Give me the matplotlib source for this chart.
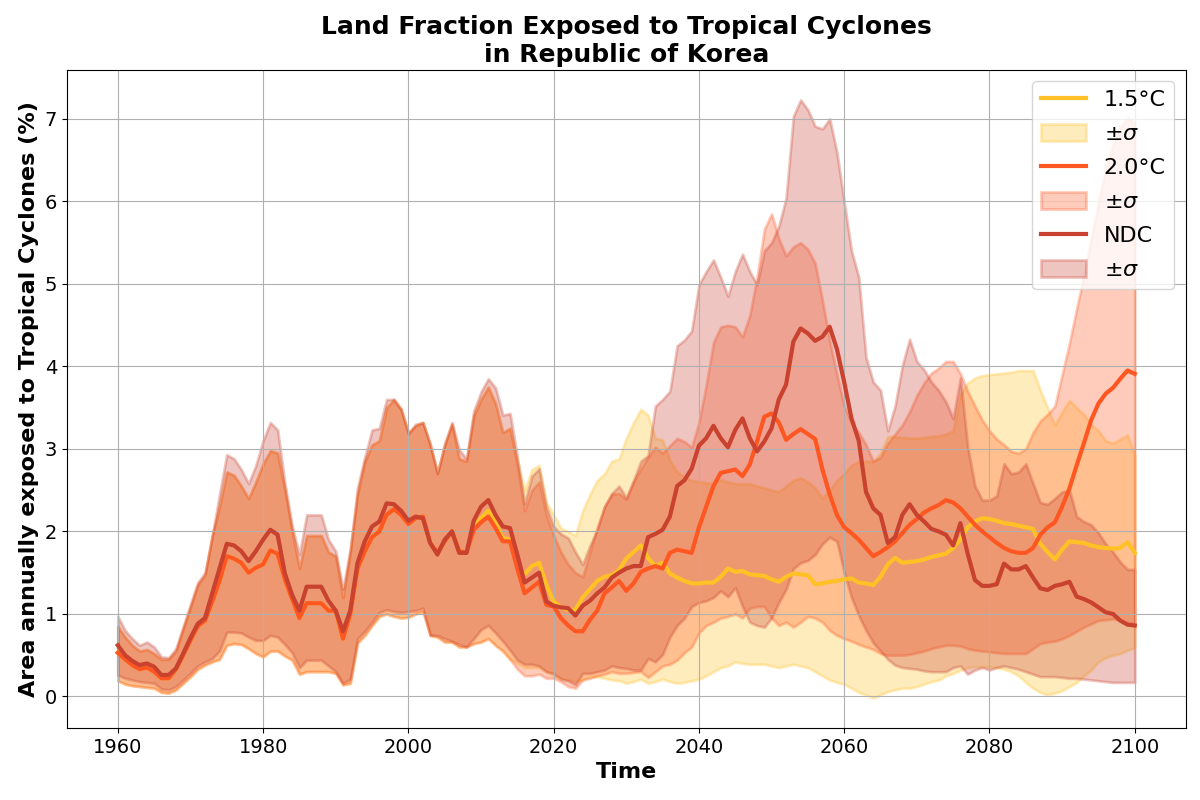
import numpy as np
import matplotlib
matplotlib.use("Agg")
import matplotlib.pyplot as plt

years = list(range(1960, 2101))

# ---------------- NDC ----------------
ndc_mean = [
    0.62, 0.50, 0.43, 0.38, 0.40, 0.36, 0.26, 0.26, 0.34, 0.52,
    0.71, 0.88, 0.95, 1.25, 1.55, 1.85, 1.83, 1.76, 1.64, 1.76,
    1.90, 2.02, 1.96, 1.49, 1.23, 1.04, 1.33, 1.33, 1.33, 1.16,
    1.04, 0.79, 1.04, 1.62, 1.88, 2.06, 2.12, 2.34, 2.33, 2.25,
    2.13, 2.18, 2.16, 1.86, 1.72, 1.90, 2.00, 1.74, 1.74, 2.13,
    2.30, 2.38, 2.20, 2.06, 2.04, 1.72, 1.38, 1.44, 1.50, 1.15,
    1.10, 1.08, 1.07, 0.98, 1.10, 1.16, 1.25, 1.32, 1.44, 1.50,
    1.55, 1.58, 1.58, 1.93, 1.97, 2.02, 2.18, 2.55, 2.62, 2.76,
    3.04, 3.13, 3.28, 3.13, 3.02, 3.23, 3.37, 3.13, 2.97, 3.09,
    3.25, 3.60, 3.78, 4.30, 4.46, 4.40, 4.31, 4.36, 4.48, 4.21,
    3.81, 3.37, 3.10, 2.48, 2.28, 2.20, 1.86, 1.93, 2.20, 2.33,
    2.20, 2.12, 2.03, 2.00, 1.96, 1.83, 2.10, 1.73, 1.41, 1.34,
    1.34, 1.36, 1.61, 1.54, 1.54, 1.58, 1.44, 1.31, 1.29, 1.34,
    1.36, 1.39, 1.21, 1.18, 1.14, 1.08, 1.02, 1.00, 0.92, 0.87,
    0.86]
ndc_upper = [
    0.97, 0.80, 0.70, 0.62, 0.66, 0.60, 0.48, 0.47, 0.58, 0.85,
    1.12, 1.38, 1.50, 1.95, 2.45, 2.93, 2.88, 2.75, 2.58, 2.80,
    3.10, 3.32, 3.23, 2.58, 2.06, 1.72, 2.20, 2.20, 2.20, 1.90,
    1.76, 1.30, 1.79, 2.53, 2.90, 3.23, 3.25, 3.60, 3.60, 3.48,
    3.18, 3.30, 3.32, 3.06, 2.71, 3.06, 3.32, 2.99, 2.88, 3.46,
    3.69, 3.85, 3.74, 3.41, 3.43, 2.90, 2.34, 2.67, 2.76, 2.30,
    2.06, 1.97, 1.92, 1.75, 1.60, 1.83, 2.02, 2.30, 2.46, 2.55,
    2.41, 2.62, 2.85, 2.92, 3.52, 3.60, 3.70, 4.25, 4.32, 4.43,
    4.99, 5.15, 5.29, 5.08, 4.85, 5.15, 5.36, 5.15, 4.99, 5.40,
    5.50, 5.70, 6.04, 7.03, 7.23, 7.11, 6.91, 6.88, 7.00, 6.59,
    5.99, 5.40, 5.08, 4.11, 3.81, 3.71, 3.22, 3.52, 4.01, 4.33,
    4.06, 3.96, 3.81, 3.71, 3.57, 3.37, 3.86, 3.02, 2.55, 2.38,
    2.38, 2.43, 2.82, 2.70, 2.72, 2.82, 2.58, 2.35, 2.33, 2.40,
    2.48, 2.50, 2.18, 2.12, 2.08, 1.98, 1.85, 1.75, 1.63, 1.54,
    1.54]
ndc_lower = [
    0.26, 0.22, 0.20, 0.18, 0.17, 0.16, 0.09, 0.08, 0.12, 0.20,
    0.28, 0.37, 0.42, 0.46, 0.55, 0.78, 0.78, 0.77, 0.72, 0.68,
    0.68, 0.74, 0.72, 0.63, 0.53, 0.35, 0.44, 0.44, 0.44, 0.37,
    0.30, 0.16, 0.21, 0.70, 0.79, 0.90, 1.02, 1.05, 1.03, 1.02,
    1.03, 1.04, 1.07, 0.74, 0.74, 0.70, 0.67, 0.63, 0.60, 0.70,
    0.81, 0.86, 0.77, 0.67, 0.56, 0.44, 0.39, 0.39, 0.37, 0.30,
    0.28, 0.21, 0.19, 0.14, 0.28, 0.28, 0.30, 0.32, 0.37, 0.35,
    0.34, 0.32, 0.32, 0.46, 0.42, 0.51, 0.72, 0.86, 0.95, 1.09,
    1.14, 1.16, 1.20, 1.28, 1.21, 1.32, 1.09, 0.90, 0.86, 0.84,
    0.95, 1.14, 1.30, 1.55, 1.62, 1.65, 1.72, 1.85, 1.93, 1.88,
    1.50, 1.20, 0.98, 0.80, 0.65, 0.55, 0.45, 0.38, 0.35, 0.34,
    0.33, 0.31, 0.30, 0.30, 0.30, 0.35, 0.37, 0.27, 0.32, 0.35,
    0.32, 0.35, 0.37, 0.35, 0.33, 0.30, 0.27, 0.24, 0.24, 0.24,
    0.23, 0.22, 0.22, 0.21, 0.20, 0.19, 0.18, 0.17, 0.17, 0.17,
    0.17]

# ---------------- 2.0°C ----------------
w20_mean = [
    0.53, 0.45, 0.38, 0.33, 0.35, 0.30, 0.22, 0.22, 0.33, 0.50,
    0.68, 0.85, 0.92, 1.15, 1.40, 1.70, 1.67, 1.62, 1.50, 1.56,
    1.60, 1.77, 1.73, 1.42, 1.18, 0.95, 1.13, 1.13, 1.13, 1.04,
    1.04, 0.70, 1.00, 1.55, 1.76, 1.93, 2.00, 2.20, 2.27, 2.20,
    2.09, 2.16, 2.18, 1.86, 1.74, 1.88, 2.00, 1.76, 1.74, 2.02,
    2.11, 2.18, 2.04, 1.88, 1.88, 1.55, 1.25, 1.32, 1.39, 1.11,
    1.09, 0.95, 0.86, 0.79, 0.79, 0.93, 1.04, 1.25, 1.32, 1.40,
    1.28, 1.37, 1.51, 1.55, 1.58, 1.55, 1.74, 1.78, 1.76, 1.74,
    2.05, 2.30, 2.55, 2.71, 2.73, 2.75, 2.67, 2.81, 3.09, 3.39,
    3.43, 3.32, 3.11, 3.18, 3.24, 3.18, 3.12, 2.75, 2.45, 2.20,
    2.05, 1.98, 1.90, 1.80, 1.70, 1.75, 1.81, 1.88, 1.98, 2.08,
    2.15, 2.23, 2.28, 2.32, 2.38, 2.35, 2.28, 2.18, 2.08, 2.00,
    1.93, 1.86, 1.80, 1.76, 1.74, 1.74, 1.80, 1.96, 2.05, 2.11,
    2.30, 2.52, 2.80, 3.07, 3.35, 3.55, 3.67, 3.74, 3.85, 3.95,
    3.91]
w20_upper = [
    0.85, 0.72, 0.62, 0.55, 0.57, 0.52, 0.45, 0.45, 0.55, 0.82,
    1.08, 1.35, 1.47, 1.95, 2.30, 2.72, 2.68, 2.55, 2.40, 2.60,
    2.82, 2.98, 2.95, 2.50, 2.00, 1.55, 1.95, 1.95, 1.95, 1.75,
    1.70, 1.20, 1.75, 2.45, 2.85, 3.05, 3.10, 3.50, 3.60, 3.48,
    3.20, 3.28, 3.32, 3.05, 2.70, 3.05, 3.30, 2.88, 2.85, 3.40,
    3.60, 3.75, 3.55, 3.20, 3.25, 2.80, 2.25, 2.50, 2.60, 2.20,
    1.95, 1.75, 1.60, 1.50, 1.45, 1.75, 2.05, 2.30, 2.45, 2.46,
    2.39, 2.60, 2.76, 2.90, 3.02, 2.95, 3.04, 3.13, 3.09, 3.02,
    3.32, 3.78, 4.29, 4.48, 4.50, 4.48, 4.36, 4.62, 5.08, 5.66,
    5.85, 5.55, 5.34, 5.45, 5.50, 5.42, 5.25, 4.80, 4.31, 3.90,
    3.52, 3.32, 3.20, 3.05, 2.85, 2.90, 3.07, 3.18, 3.29, 3.45,
    3.65, 3.80, 3.92, 3.98, 4.06, 4.06, 3.91, 3.70, 3.52, 3.35,
    3.22, 3.12, 3.05, 2.97, 2.95, 3.00, 3.20, 3.34, 3.42, 3.52,
    3.90, 4.28, 4.70, 5.10, 5.55, 5.99, 6.40, 6.69, 6.90, 7.01,
    6.95]
w20_lower = [
    0.19, 0.15, 0.13, 0.12, 0.11, 0.10, 0.05, 0.04, 0.08, 0.16,
    0.24, 0.33, 0.38, 0.42, 0.45, 0.62, 0.64, 0.63, 0.58, 0.52,
    0.48, 0.55, 0.55, 0.49, 0.44, 0.27, 0.30, 0.30, 0.30, 0.30,
    0.28, 0.14, 0.16, 0.65, 0.74, 0.86, 0.97, 1.00, 0.97, 0.95,
    0.96, 1.00, 1.03, 0.74, 0.72, 0.66, 0.66, 0.60, 0.60, 0.64,
    0.66, 0.70, 0.62, 0.55, 0.45, 0.33, 0.25, 0.25, 0.27, 0.22,
    0.22, 0.18, 0.12, 0.10, 0.20, 0.22, 0.25, 0.27, 0.30, 0.28,
    0.28, 0.29, 0.30, 0.23, 0.30, 0.37, 0.39, 0.44, 0.53, 0.60,
    0.77, 0.86, 0.90, 0.95, 0.97, 1.00, 0.95, 1.07, 1.09, 1.09,
    0.95, 0.86, 0.90, 0.84, 0.90, 0.97, 0.95, 0.90, 0.80, 0.74,
    0.70, 0.67, 0.63, 0.60, 0.57, 0.52, 0.50, 0.50, 0.50, 0.51,
    0.53, 0.55, 0.58, 0.60, 0.62, 0.62, 0.61, 0.58, 0.56, 0.55,
    0.54, 0.53, 0.52, 0.52, 0.52, 0.52, 0.58, 0.64, 0.66, 0.67,
    0.70, 0.74, 0.79, 0.84, 0.88, 0.92, 0.93, 0.94, 0.92, 0.89,
    0.89]

# ---------------- 1.5°C ----------------
w15_mean = [
    0.53, 0.45, 0.38, 0.33, 0.35, 0.30, 0.22, 0.22, 0.33, 0.50,
    0.68, 0.85, 0.92, 1.15, 1.40, 1.70, 1.67, 1.62, 1.50, 1.56,
    1.60, 1.77, 1.73, 1.42, 1.18, 0.95, 1.13, 1.13, 1.13, 1.04,
    1.04, 0.70, 1.00, 1.55, 1.76, 1.93, 2.00, 2.20, 2.27, 2.20,
    2.09, 2.16, 2.18, 1.86, 1.74, 1.88, 2.00, 1.76, 1.74, 2.04,
    2.16, 2.25, 2.10, 1.92, 1.90, 1.58, 1.48, 1.58, 1.62, 1.35,
    1.15, 1.08, 1.05, 1.05, 1.20, 1.30, 1.40, 1.45, 1.47, 1.53,
    1.67, 1.75, 1.83, 1.68, 1.58, 1.62, 1.49, 1.44, 1.40, 1.37,
    1.37, 1.38, 1.38, 1.45, 1.55, 1.51, 1.52, 1.48, 1.47, 1.46,
    1.42, 1.39, 1.45, 1.49, 1.48, 1.47, 1.36, 1.37, 1.39, 1.40,
    1.42, 1.43, 1.38, 1.37, 1.35, 1.45, 1.60, 1.68, 1.62, 1.63,
    1.64, 1.66, 1.69, 1.71, 1.73, 1.80, 1.90, 2.05, 2.12, 2.16,
    2.15, 2.13, 2.10, 2.09, 2.07, 2.05, 2.03, 1.85, 1.75, 1.66,
    1.78, 1.88, 1.87, 1.86, 1.83, 1.81, 1.80, 1.79, 1.80, 1.87,
    1.74]
w15_upper = [
    0.85, 0.72, 0.62, 0.55, 0.57, 0.52, 0.45, 0.45, 0.55, 0.82,
    1.08, 1.35, 1.47, 1.95, 2.30, 2.72, 2.68, 2.55, 2.40, 2.60,
    2.82, 2.98, 2.95, 2.50, 2.00, 1.55, 1.95, 1.95, 1.95, 1.75,
    1.70, 1.20, 1.75, 2.45, 2.85, 3.05, 3.10, 3.50, 3.60, 3.48,
    3.20, 3.28, 3.32, 3.05, 2.70, 3.05, 3.30, 2.88, 2.85, 3.40,
    3.60, 3.75, 3.55, 3.20, 3.25, 2.85, 2.50, 2.75, 2.80, 2.35,
    2.20, 2.04, 2.00, 1.95, 2.25, 2.45, 2.62, 2.70, 2.85, 2.88,
    3.13, 3.32, 3.48, 3.41, 3.13, 3.11, 2.86, 2.72, 2.66, 2.62,
    2.60, 2.59, 2.58, 2.63, 2.60, 2.58, 2.58, 2.58, 2.55, 2.53,
    2.50, 2.48, 2.55, 2.62, 2.65, 2.60, 2.53, 2.40, 2.50, 2.62,
    2.70, 2.80, 2.85, 2.85, 2.85, 2.95, 3.15, 3.15, 3.14, 3.13,
    3.13, 3.14, 3.15, 3.16, 3.18, 3.22, 3.66, 3.80, 3.86, 3.89,
    3.90, 3.91, 3.92, 3.93, 3.95, 3.95, 3.95, 3.71, 3.50, 3.29,
    3.45, 3.59, 3.50, 3.42, 3.30, 3.22, 3.10, 3.07, 3.12, 3.17,
    2.92]
w15_lower = [
    0.19, 0.15, 0.13, 0.12, 0.11, 0.10, 0.05, 0.04, 0.08, 0.16,
    0.24, 0.33, 0.38, 0.42, 0.45, 0.62, 0.64, 0.63, 0.58, 0.52,
    0.48, 0.55, 0.55, 0.49, 0.44, 0.27, 0.30, 0.30, 0.30, 0.30,
    0.28, 0.14, 0.16, 0.65, 0.74, 0.86, 0.97, 1.00, 0.97, 0.95,
    0.96, 1.00, 1.03, 0.74, 0.72, 0.66, 0.66, 0.60, 0.60, 0.64,
    0.66, 0.70, 0.62, 0.55, 0.45, 0.40, 0.35, 0.35, 0.35, 0.30,
    0.25, 0.22, 0.20, 0.18, 0.20, 0.24, 0.24, 0.22, 0.20, 0.19,
    0.16, 0.18, 0.21, 0.16, 0.18, 0.21, 0.18, 0.16, 0.17, 0.19,
    0.21, 0.25, 0.30, 0.35, 0.37, 0.42, 0.40, 0.39, 0.39, 0.39,
    0.37, 0.35, 0.37, 0.39, 0.37, 0.35, 0.30, 0.25, 0.20, 0.17,
    0.15, 0.10, 0.05, 0.02, -0.02, 0.02, 0.06, 0.08, 0.10, 0.10,
    0.12, 0.15, 0.18, 0.20, 0.25, 0.28, 0.32, 0.35, 0.36, 0.36,
    0.36, 0.35, 0.33, 0.30, 0.25, 0.17, 0.10, 0.05, 0.02, 0.04,
    0.07, 0.12, 0.17, 0.25, 0.32, 0.42, 0.47, 0.50, 0.52, 0.56,
    0.59]

labels = ["1.5°C", "2.0°C", "NDC"]
colors = ["#FFC125", "#FF5722", "#C9412F"]

series = [
    (w15_mean, w15_lower, w15_upper),
    (w20_mean, w20_lower, w20_upper),
    (ndc_mean, ndc_lower, ndc_upper),
]

fig, ax = plt.subplots(figsize=(12, 8), dpi=100)
x = np.array(years)
for (m, lo, hi), lab, c in zip(series, labels, colors):
    ax.plot(x, m, color=c, linewidth=3, label=lab)
    ax.fill_between(x, lo, hi, color=c, alpha=0.3, linewidth=2, label=r"$\pm\sigma$")

ax.set_title("Land Fraction Exposed to Tropical Cyclones\nin Republic of Korea",
             fontsize=18, fontweight="bold")
ax.set_xlabel("Time", fontsize=16, fontweight="bold")
ax.set_ylabel("Area annually exposed to Tropical Cyclones (%)", fontsize=16, fontweight="bold")
ax.tick_params(labelsize=14)
ax.grid(True)
ax.legend(loc="upper right", fontsize=16, labelspacing=0.62, handleheight=0.8)
fig.subplots_adjust(left=0.0558, right=0.988, top=0.9125, bottom=0.09)
fig.savefig("out.png", dpi=100)
